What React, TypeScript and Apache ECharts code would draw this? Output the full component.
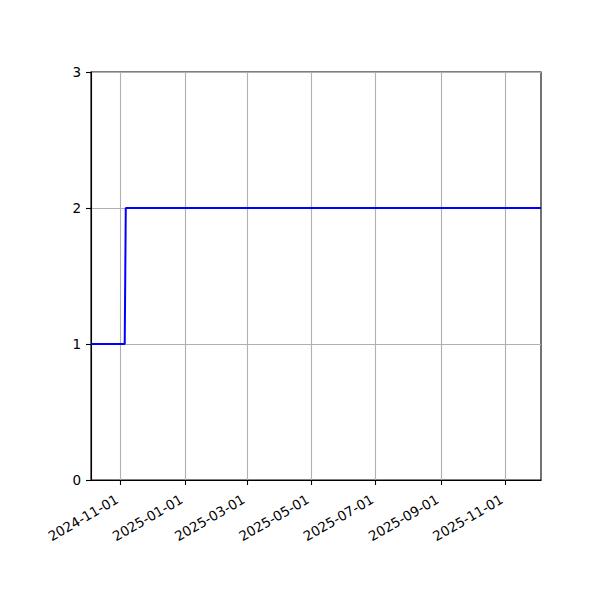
import React, { useEffect, useRef } from 'react';
import * as echarts from 'echarts';

// step series: count over time
const dates = ['2024-10-04', '2024-11-05', '2024-11-06', '2025-12-05'];
const counts = [1, 1, 2, 2];

const tickDates = ['2024-11-01', '2025-01-01', '2025-03-01', '2025-05-01', '2025-07-01', '2025-09-01', '2025-11-01'];
const yTicks = [0, 1, 2, 3];

const xMin = '2024-10-04';
const xMax = '2025-12-05';

const toTime = (d: string) => {
  const [y, m, day] = d.split('-').map(Number);
  return Date.UTC(y, m - 1, day);
};

const fmt = (v: number) => {
  const d = new Date(v);
  const mm = String(d.getUTCMonth() + 1).padStart(2, '0');
  const dd = String(d.getUTCDate()).padStart(2, '0');
  return `${d.getUTCFullYear()}-${mm}-${dd}`;
};

const FONT = "'DejaVu Sans', sans-serif";

const App: React.FC = () => {
  const chartRef = useRef<HTMLDivElement>(null);

  useEffect(() => {
    if (!chartRef.current) return;
    const chart = echarts.init(chartRef.current, undefined, { renderer: 'svg' });

    const tickValues = tickDates.map(toTime);

    const option: echarts.EChartsOption = {
      animation: false,
      backgroundColor: '#ffffff',
      // div sits at (8,8) because of the body margin
      grid: {
        left: 83,
        right: 51,
        top: 64,
        bottom: 112,
        containLabel: false,
        show: true,
        borderColor: '#000',
        borderWidth: 1.1,
        backgroundColor: 'transparent',
      },
      xAxis: {
        type: 'value',
        min: toTime(xMin),
        max: toTime(xMax),
        axisLine: { show: true, lineStyle: { color: '#000', width: 1.1 } },
        axisTick: {
          show: true,
          length: 5,
          inside: false,
          lineStyle: { color: '#000', width: 1.1 },
          customValues: tickValues,
        } as any,
        axisLabel: {
          customValues: tickValues,
          formatter: (v: number) => fmt(v),
          rotate: 30,
          margin: 16,
          padding: [0, 4, 0, 0],
          color: '#000',
          fontSize: 13.5,
          fontFamily: FONT,
        } as any,
        splitLine: { show: false },
      },
      yAxis: {
        type: 'value',
        min: yTicks[0],
        max: yTicks[yTicks.length - 1],
        interval: 1,
        axisLine: { show: true, lineStyle: { color: '#000', width: 1.1 } },
        axisTick: { show: true, length: 5, lineStyle: { color: '#000', width: 1.1 } },
        axisLabel: { margin: 10, color: '#000', fontSize: 13.5, fontFamily: FONT },
        splitLine: { show: true, lineStyle: { color: '#b0b0b0', width: 1.1 } },
      },
      series: [
        {
          type: 'line',
          data: dates.map((d, i) => [toTime(d), counts[i]]),
          showSymbol: false,
          lineStyle: { color: '#0000ff', width: 2 },
          itemStyle: { color: '#0000ff' },
          z: 3,
          markLine: {
            silent: true,
            symbol: 'none',
            label: { show: false },
            lineStyle: { color: '#b0b0b0', width: 1.1, type: 'solid' },
            data: tickValues.map((t) => ({ xAxis: t })),
            z: 1,
          },
        },
      ],
    };

    chart.setOption(option);
    return () => chart.dispose();
  }, []);

  return <div ref={chartRef} style={{ width: 584, height: 584 }} />;
};

export default App;
